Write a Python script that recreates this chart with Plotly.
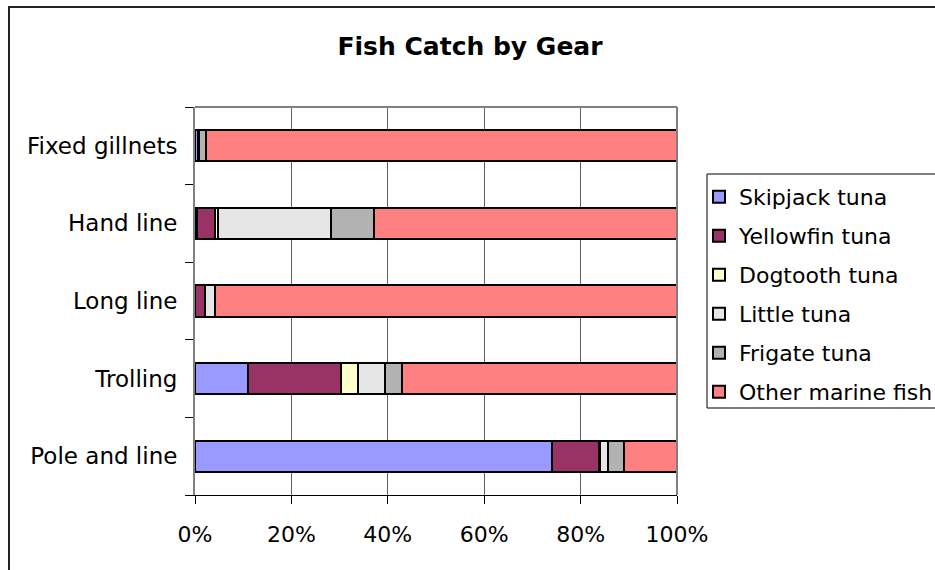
import plotly.graph_objects as go

categories = ["Pole and line", "Trolling", "Long line", "Hand line", "Fixed gillnets"]
series_names = ["Skipjack tuna", "Yellowfin tuna", "Dogtooth tuna", "Little tuna", "Frigate tuna", "Other marine fish"]
skipjack = [74.0, 10.9, 0.1, 0.4, 0.6]
yellowfin = [9.9, 19.4, 1.9, 3.7, 0.0]
dogtooth = [0.2, 3.6, 0.0, 0.7, 0.0]
little = [1.5, 5.5, 2.1, 23.5, 0.2]
frigate = [3.4, 3.5, 0.0, 8.8, 1.4]
other = [11.0, 57.1, 95.9, 62.9, 97.8]
x_ticks = [0, 20, 40, 60, 80, 100]

colors = ["#9999FF", "#993366", "#FFFFCC", "#E6E6E6", "#B2B2B2", "#FF8080"]
values = [skipjack, yellowfin, dogtooth, little, frigate, other]

FONT = "DejaVu Sans, Verdana, sans-serif"
W, H = 935, 570
L, R, T, B = 195, 677, 107, 495

fig = go.Figure()
for name, vals, col in zip(series_names, values, colors):
    fig.add_trace(go.Bar(
        y=categories, x=vals, name=name, orientation="h",
        marker=dict(color=col, line=dict(color="black", width=2)),
        legendgroup=name,
    ))

pw, ph = R - L, B - T
fig.update_layout(
    width=W, height=H,
    barmode="stack", bargap=0.6,
    margin=dict(l=L, r=W - R, t=T, b=H - B, autoexpand=False),
    paper_bgcolor="white", plot_bgcolor="white",
    font=dict(family=FONT, color="black", size=22),
    title=dict(text="<b>Fish Catch by Gear</b>", font=dict(size=25, family=FONT, color="black"),
               x=470 / W, xref="container", xanchor="center",
               y=1 - 46 / H, yref="container", yanchor="middle"),
    xaxis=dict(range=[0, 100], tickvals=x_ticks, ticktext=[f"{v}%" for v in x_ticks],
               showgrid=True, gridcolor="#606060", gridwidth=1,
               ticks="outside", ticklen=8, tickcolor="black", tickwidth=1,
               showline=True, linecolor="black", linewidth=1,
               tickfont=dict(size=22), ticklabelstandoff=12,
               zeroline=False, fixedrange=True),
    yaxis=dict(showgrid=False, ticks="outside", ticklen=8, tickcolor="black",
               tickson="boundaries", showline=True, linecolor="#808080", linewidth=2,
               tickfont=dict(size=23), ticklabelstandoff=11, fixedrange=True),
    legend=dict(xref="container", yref="container", x=699 / W, y=1 - 176 / H,
                xanchor="left", yanchor="top", borderwidth=0,
                font=dict(size=22, family=FONT), traceorder="grouped", tracegroupgap=7.4,
                bgcolor="rgba(0,0,0,0)"),
    showlegend=True,
)

# plot area top/right border
fig.add_shape(type="line", xref="paper", yref="paper", x0=0, x1=1, y0=1, y1=1,
              line=dict(color="#808080", width=2))
fig.add_shape(type="line", xref="paper", yref="paper", x0=1, x1=1, y0=0, y1=1,
              line=dict(color="#808080", width=2))
# legend frame (extends past the right image edge)
fig.add_shape(type="rect", xref="paper", yref="paper",
              x0=(707 - L) / pw, x1=(960 - L) / pw, y0=(B - 408) / ph, y1=(B - 174) / ph,
              line=dict(color="black", width=1), fillcolor="rgba(0,0,0,0)")
# outer chart border (extends past the image edges)
fig.add_shape(type="rect", xref="paper", yref="paper",
              x0=(9 - L) / pw, x1=3, y0=-2, y1=(B - 7) / ph,
              line=dict(color="#222222", width=2), fillcolor="rgba(0,0,0,0)")

fig.write_html("out.html", config={"displayModeBar": False},
               post_script="document.body.style.margin='0';")
